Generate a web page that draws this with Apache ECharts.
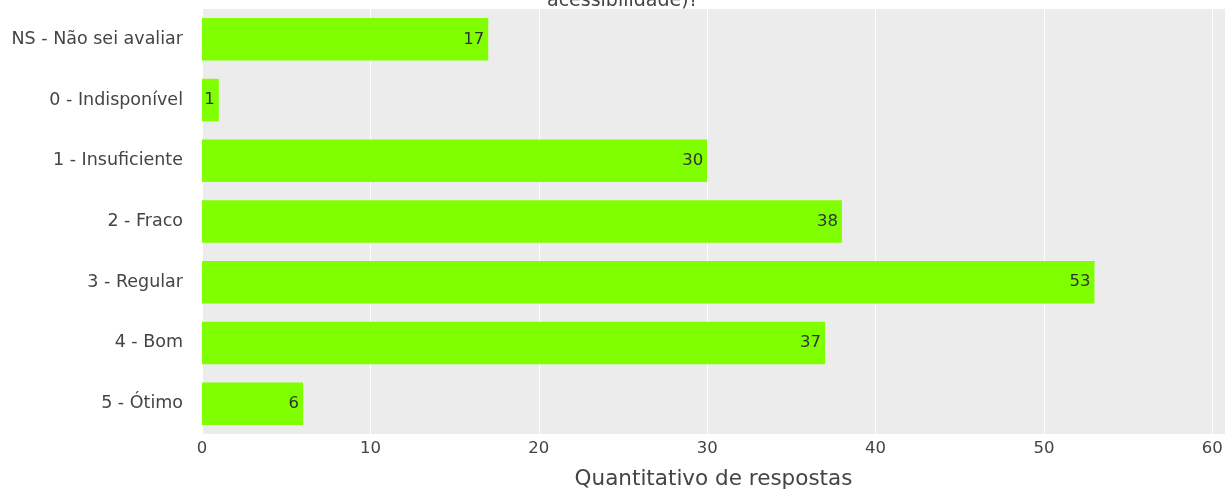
<!DOCTYPE html>
<html>
<head>
<meta charset="utf-8">
<script src="https://cdn.jsdelivr.net/npm/echarts@6/dist/echarts.min.js"></script>
<style>
  html, body { margin: 0; padding: 0; background: #fff; }
  #main { width: 1225px; height: 489px; }
</style>
</head>
<body>
<div id="main"></div>
<script>
  // categorias e respostas
  var categorias = ['NS - Não sei avaliar', '0 - Indisponível', '1 - Insuficiente', '2 - Fraco', '3 - Regular', '4 - Bom', '5 - Ótimo'];
  var respostas = [17, 1, 30, 38, 53, 37, 6];

  var chart = echarts.init(document.getElementById('main'));

  var option = {
    backgroundColor: '#fff',
    title: {
      text: 'acessibilidade)?',
      left: 542,
      top: -13,
      textStyle: { fontFamily: 'DejaVu Sans', fontSize: 19, fontWeight: 'normal', color: '#444' }
    },
    grid: {
      left: 202, right: 0, top: 9, bottom: 55,
      outerBoundsMode: 'none',
      backgroundColor: '#ececec', show: true, borderWidth: 0
    },
    xAxis: {
      type: 'value',
      min: 0,
      max: 60.75,
      interval: 10,
      name: 'Quantitativo de respostas',
      nameLocation: 'middle',
      nameGap: 34,
      nameTextStyle: { fontFamily: 'DejaVu Sans', fontSize: 21.5, color: '#444' },
      axisLine: { show: false },
      axisTick: { show: false },
      axisLabel: { fontFamily: 'DejaVu Sans', fontSize: 16.5, color: '#444', margin: 6, showMaxLabel: false },
      splitLine: { lineStyle: { color: '#fff', width: 1 } }
    },
    yAxis: {
      type: 'category',
      inverse: true,
      data: categorias,
      axisLine: { show: false },
      axisTick: { show: false },
      axisLabel: { fontFamily: 'DejaVu Sans', fontSize: 17.5, color: '#444', margin: 19 }
    },
    series: [{
      type: 'bar',
      data: respostas,
      barCategoryGap: '30%',
      itemStyle: { color: '#7fff00' },
      label: {
        show: true,
        position: 'insideRight',
        distance: 4,
        fontFamily: 'DejaVu Sans',
        fontSize: 16.5,
        color: '#333'
      }
    }]
  };

  chart.setOption(option);
</script>
</body>
</html>
